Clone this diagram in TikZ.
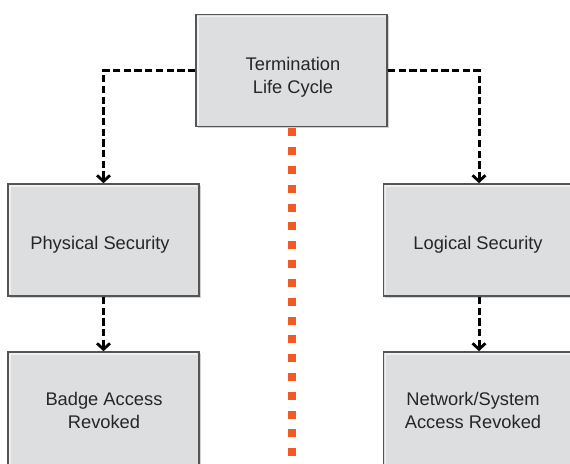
\documentclass[tikz,border=0pt]{standalone}
\usepackage{fontspec}
\setmainfont{Liberation Sans}
\usetikzlibrary{arrows.meta,shadows}

\definecolor{boxfill}{HTML}{DCDEDF}
\definecolor{boxline}{HTML}{555555}
\definecolor{textgray}{HTML}{262626}
\definecolor{divider}{HTML}{EF5A26}

\tikzset{
  stagebox/.style={
    rectangle, fill=boxfill, draw=boxline, line width=1.6pt,
    minimum width=191pt, minimum height=112pt, inner sep=0pt,
    drop shadow={shadow xshift=1.5pt, shadow yshift=-1.5pt, opacity=0.18, fill=black},
    path picture={
      \draw[white, opacity=0.55, line width=1.6pt]
        ([shift={(2pt,2pt)}]path picture bounding box.south west)
        |- ([shift={(-2pt,-2pt)}]path picture bounding box.north east);
    }
  },
  stagetext/.style={
    align=center, text=textgray, font=\fontsize{18.3}{22.5}\selectfont, inner sep=0pt
  },
  flow/.style={
    draw=black, line width=3pt, dash pattern=on 7.3pt off 3.4pt,
    -{Straight Barb[length=6pt, width=13pt, line width=2.8pt]}
  },
  dividerdot/.style={fill=divider, minimum width=8pt, minimum height=8pt, inner sep=0pt}
}

\begin{document}
\begin{tikzpicture}[x=1pt, y=-1pt]
  \useasboundingbox (0,0) rectangle (570,463);
  \clip (0,0) rectangle (570,463);

  % stage boxes
  \node[stagebox] (term)  at (291.5, 70.5) {};
  \node[stagebox] (phys)  at (103.5, 240)  {};
  \node[stagebox, minimum height=124pt] (badge) at (103.5, 414) {};
  \node[stagebox] (logic) at (479, 240)    {};
  \node[stagebox, minimum height=124pt] (net)   at (479, 414)   {};

  % box captions
  \node[stagetext] (termtxt)  at (293, 77.5) {Termination\\Life Cycle};
  \node[stagetext] (phystxt)  at (100, 245)  {Physical Security};
  \node[stagetext] (badgetxt) at (104, 410.5) {Badge Access\\Revoked};
  \node[stagetext] (logictxt) at (478, 245)  {Logical Security};
  \node[stagetext] (nettxt)   at (473, 410.5) {Network/System\\Access Revoked};

  % dotted divider below the top box
  \foreach \i in {0,...,17}
    \node[dividerdot] (dot\i) at (292, 132.3+18.82*\i) {};

  % dashed connectors
  \draw[flow] (term.west)  -| (phys.north);
  \draw[flow] (term.east)  -| (logic.north);
  \draw[flow] (phys.south)  -- (badge.north);
  \draw[flow] (logic.south) -- (net.north);
\end{tikzpicture}
\end{document}
